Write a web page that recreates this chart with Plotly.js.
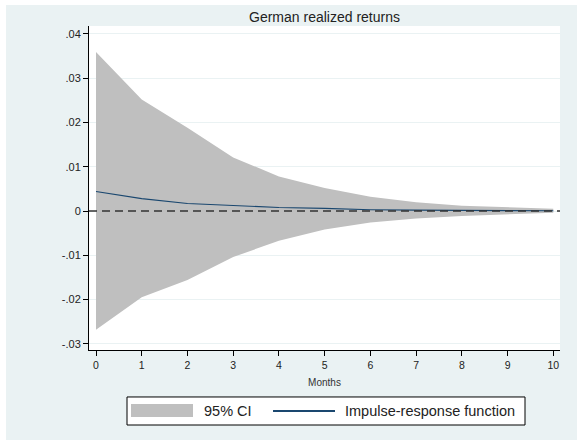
<!DOCTYPE html>
<html>
<head>
<meta charset="utf-8">
<script src="https://cdn.plot.ly/plotly-3.0.1.min.js"></script>
<style>
  html, body { margin: 0; padding: 0; background: #ffffff; }
  #chart { position: absolute; left: 6px; top: 5px; width: 571px; height: 435px; }
</style>
</head>
<body>
<div id="chart"></div>
<script>
const months = [0, 1, 2, 3, 4, 5, 6, 7, 8, 9, 10];
const irf   = [0.0044, 0.0028, 0.0017, 0.0012, 0.0008, 0.0006, 0.0003, 0.0002, 0.00015, 0.0001, 0.00005];
const upper = [0.0359, 0.0252, 0.0188, 0.0121, 0.0078, 0.0052, 0.0032, 0.0020, 0.0012, 0.0008, 0.0005];
const lower = [-0.0268, -0.0195, -0.0156, -0.0104, -0.0067, -0.0042, -0.0026, -0.0017, -0.0011, -0.0007, -0.0004];
const yTickVals = [-0.03, -0.02, -0.01, 0, 0.01, 0.02, 0.03, 0.04];
const yTickText = ["-.03", "-.02", "-.01", "0", ".01", ".02", ".03", ".04"];
const xTickVals = months;
const legendLabels = ["95% CI", "Impulse-response function"];
const titleText = "German realized returns";
const xTitle = "Months";

const FONT = "Arial, 'Liberation Sans', sans-serif";
const BAND = "#bfbfbf";
const NAVY = "#1a476f";
const BG = "#eaf2f3";

const traces = [
  { x: months, y: lower, type: "scatter", mode: "lines", line: { width: 0, color: BAND },
    showlegend: false, hoverinfo: "skip" },
  { x: months, y: upper, type: "scatter", mode: "lines", fill: "tonexty", fillcolor: BAND,
    line: { width: 0, color: BAND }, name: legendLabels[0], showlegend: false },
  { x: months, y: irf, type: "scatter", mode: "lines", line: { width: 1.1, color: NAVY },
    name: legendLabels[1], showlegend: false }
];

const layout = {
  width: 571, height: 435,
  paper_bgcolor: BG, plot_bgcolor: "#ffffff",
  margin: { l: 83, r: 17, t: 21, b: 90 },
  font: { family: FONT, color: "#222222", size: 11 },
  title: { text: titleText, font: { family: FONT, size: 14, color: "#222222" },
           x: 0.5, xref: "paper", xanchor: "center", y: 0.973, yref: "container", yanchor: "middle" },
  xaxis: {
    range: [-0.153, 10.147], tickvals: xTickVals, ticktext: xTickVals.map(String),
    showgrid: false, zeroline: false, showline: true, linecolor: "#000000", linewidth: 1,
    ticks: "outside", ticklen: 5, tickcolor: "#000000", tickwidth: 1,
    tickfont: { family: FONT, size: 10.5, color: "#222222" },
    title: { text: xTitle, font: { family: FONT, size: 10, color: "#333333" }, standoff: 9 }
  },
  yaxis: {
    range: [-0.0314, 0.0418], tickvals: yTickVals, ticktext: yTickText,
    showgrid: true, gridcolor: BG, gridwidth: 1, zeroline: false,
    showline: true, linecolor: "#000000", linewidth: 1,
    ticks: "outside", ticklen: 5, tickcolor: "#000000", tickwidth: 1,
    tickfont: { family: FONT, size: 11, color: "#222222" }
  },
  shapes: [
    { type: "line", xref: "paper", yref: "y", x0: 0, x1: 1, y0: 0, y1: 0, layer: "above",
      line: { color: "#333333", width: 1.3, dash: "8px,5px" } },
    // legend box
    { type: "rect", xref: "paper", yref: "paper", x0: 0.0807, x1: 0.9257, y0: -0.145, y1: -0.2315,
      fillcolor: "#ffffff", line: { color: "#000000", width: 1 } },
    { type: "rect", xref: "paper", yref: "paper", x0: 0.0892, x1: 0.2208, y0: -0.1667, y1: -0.2068,
      fillcolor: BAND, line: { width: 0 } },
    { type: "line", xref: "paper", yref: "paper", x0: 0.3907, x1: 0.5223, y0: -0.1883, y1: -0.1883,
      line: { color: NAVY, width: 2 } }
  ],
  annotations: [
    { xref: "paper", yref: "paper", x: 0.2400, y: -0.1883, xanchor: "left", yanchor: "middle",
      text: legendLabels[0], showarrow: false, font: { family: FONT, size: 14.5, color: "#222222" } },
    { xref: "paper", yref: "paper", x: 0.5394, y: -0.1883, xanchor: "left", yanchor: "middle",
      text: legendLabels[1], showarrow: false, font: { family: FONT, size: 14.5, color: "#222222" } }
  ],
  showlegend: false
};

Plotly.newPlot("chart", traces, layout, { displayModeBar: false, staticPlot: true });
</script>
</body>
</html>
